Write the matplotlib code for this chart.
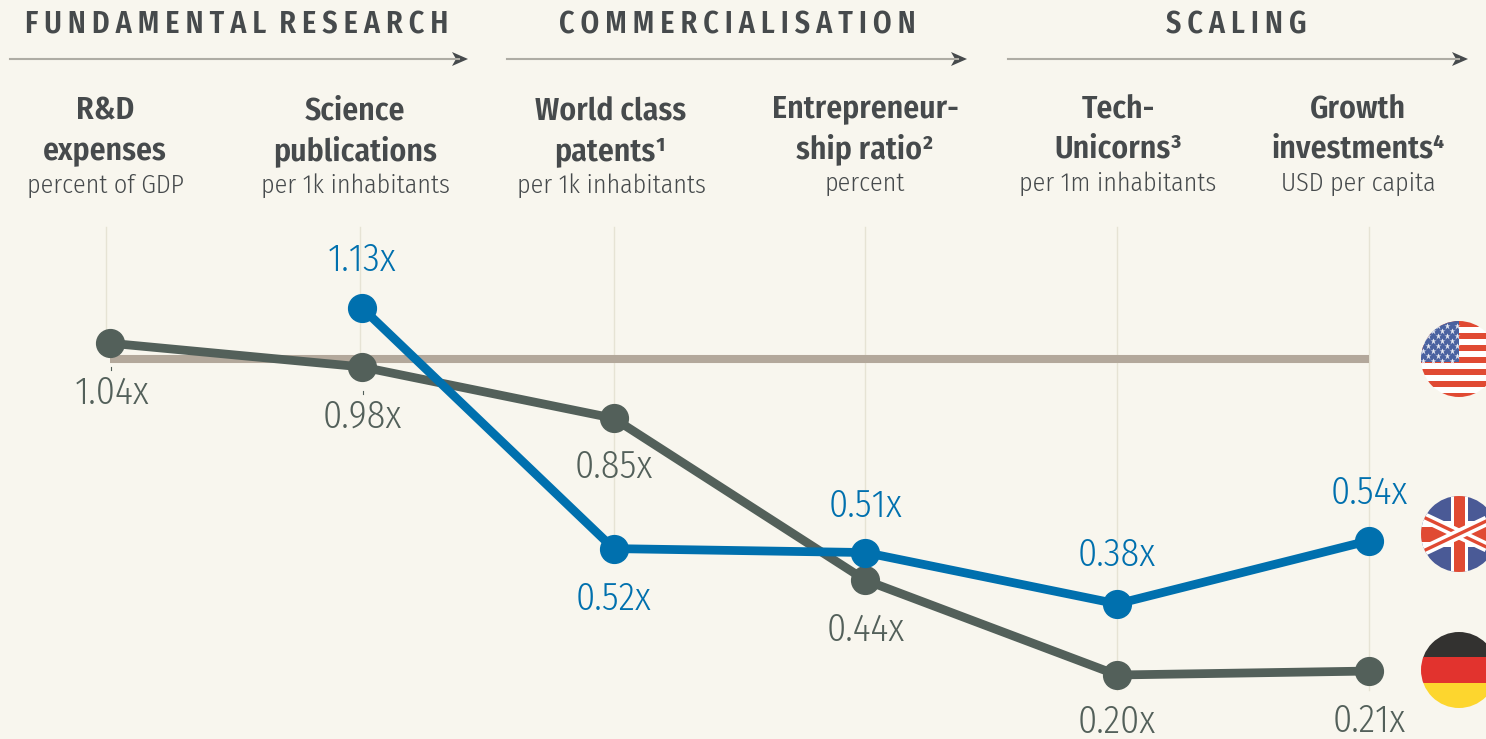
import matplotlib
matplotlib.use('Agg')
import matplotlib.pyplot as plt
from matplotlib.patches import Circle, Rectangle, Polygon

# data
sections = ['FUNDAMENTAL RESEARCH', 'COMMERCIALISATION', 'SCALING']
names = [['R&D', 'expenses'], ['Science', 'publications'], ['World class', 'patents\u00b9'],
         ['Entrepreneur-', 'ship ratio\u00b2'], ['Tech-', 'Unicorns\u00b3'], ['Growth', 'investments\u2074']]
units = ['percent of GDP', 'per 1k inhabitants', 'per 1k inhabitants',
         'percent', 'per 1m inhabitants', 'USD per capita']
germany = [1.04, 0.98, 0.85, 0.44, 0.20, 0.21]
uk_x = [1, 2, 3, 4, 5]
uk = [1.13, 0.52, 0.51, 0.38, 0.54]
us_level = 1.0

bg = '#f8f6ee'
grey = '#53605a'
blue = '#0070ae'
tan = '#b3a89b'
dark = '#464a4c'
font = ['Fira Sans Condensed', 'DejaVu Sans']

W, H = 1486, 739
fig = plt.figure(figsize=(W/100, H/100), dpi=100, facecolor=bg)

# overlay in pixels for header and flags
px = fig.add_axes([0, 0, 1, 1], zorder=1)
px.set_xlim(0, W)
px.set_ylim(H, 0)
px.axis('off')

# data axes, scale: 1.0 at y=359, 395 px per unit, 251.8 px per category
ax = fig.add_axes([0, 0, 1, 1], zorder=2)
ax.set_xlim(-110/251.8, (W-110)/251.8)
ax.set_ylim(1-(H-359)/395, 1+359/395)
ax.axis('off')
ax.patch.set_alpha(0)

# thin guides, they stop just under the lowest dot of each column
grid_x = [105.5, 359.5, 614, 865, 1117, 1369]
grid_end = [345, 375, 560, 590, 690, 690]
for x, e in zip(grid_x, grid_end):
    px.plot([x, x], [227, e], color='#e6e3d4', lw=1)
px.plot([110.5, 110.5], [367, 370], color=grey, lw=0.8)
px.plot([362.5, 362.5], [391, 394], color=grey, lw=0.8)

ax.plot([0, 5], [us_level, us_level], color=tan, lw=5.8, solid_capstyle='butt', zorder=2)
ax.plot(range(6), germany, color=grey, lw=6.3, marker='o', ms=20, zorder=3)
ax.plot(uk_x, uk, color=blue, lw=6.3, marker='o', ms=20, zorder=4)

# value labels, offset in px from the point
g_off = [(2, 50), (1, 50), (0, 49), (0, 50), (0, 47), (0, 50)]
u_off = [(0, -48), (0, 50), (0, -47), (0, -49), (0, -48)]
for i, v in enumerate(germany):
    ax.annotate('%.2fx' % v, (i, v), xytext=(g_off[i][0]*0.72, -g_off[i][1]*0.72), textcoords='offset points',
                ha='center', va='center', color=grey, fontsize=27.5, fontweight=300, family=font, zorder=6)
for k, (i, v) in enumerate(zip(uk_x, uk)):
    ax.annotate('%.2fx' % v, (i, v), xytext=(u_off[k][0]*0.72, -u_off[k][1]*0.72), textcoords='offset points',
                ha='center', va='center', color=blue, fontsize=27.5, fontweight=300, family=font, zorder=6)

# section headers
sec_x = [237, 737, 1236]
arrow_x = [(10, 467), (507, 966), (1008, 1467)]
for s, x, (a, b) in zip(sections, sec_x, arrow_x):
    px.text(x, 34, '\u2009'.join(s).replace('\u2009 \u2009', '  '), ha='center', va='baseline', color=dark,
            fontsize=21.6, fontweight=600, family=font)
    px.plot([a, b-8], [59, 59], color='#aeaca4', lw=1.5)
    px.add_patch(Polygon([[b-15, 52], [b+1, 59], [b-15, 66], [b-11, 59]], fc=dark, ec='none'))

# column headers
col_x = [105, 355, 611, 865, 1118, 1358]
base_y = [119, 119, 119, 117, 117, 117]
for i in range(6):
    px.text(col_x[i], base_y[i], names[i][0], ha='center', va='baseline', color=dark, fontsize=22.8,
            fontweight=600, family=font)
    px.text(col_x[i], base_y[i]+41, names[i][1], ha='center', va='baseline', color=dark, fontsize=22.8,
            fontweight=600, family=font)
    px.text(col_x[i], base_y[i]+74, units[i], ha='center', va='baseline', color=dark, fontsize=18.7,
            fontweight=300, family=font)

# flags
fx, r = 1459, 38
red = '#e04a33'
def clip_circle(cy):
    return Circle((fx, cy), r, transform=px.transData)

def clipped(artist, clip):
    artist.set_clip_path(clip)
    return artist

# usa
cy = 359
clip = clip_circle(cy)
clipped(px.add_patch(Rectangle((fx-r, cy-r), 2*r, 2*r, fc='white', ec='none')), clip)
for j in range(7):
    clipped(px.add_patch(Rectangle((fx-r, cy-r+j*12), 2*r, 6, fc=red, ec='none')), clip)
clipped(px.add_patch(Rectangle((fx-r, cy-r), r, r+3, fc='#4a62a0', ec='none')), clip)
for row in range(8):
    yy = cy-r+5+row*5
    for k in range(5):
        if (2 if row % 2 else 7)+k*9.6 < r-1:
            clipped(px.plot(fx-r+(2 if row % 2 else 7)+k*9.6, yy, marker='*', ms=4.5, color='#e8eaf2', mec='none')[0], clip)

# uk
cy = 534
clip = clip_circle(cy)
clipped(px.add_patch(Rectangle((fx-r, cy-r), 2*r, 2*r, fc='#4a5a96', ec='none')), clip)
for d in [1, -1]:
    clipped(px.plot([fx-80, fx+80], [cy-d*38, cy+d*38], color='white', lw=7.5, solid_capstyle='butt')[0], clip)
    clipped(px.plot([fx-80, fx+80], [cy-d*38, cy+d*38], color=red, lw=2.4, solid_capstyle='butt')[0], clip)
for rect, col in [((fx-8.5, cy-r, 17, 2*r), 'white'), ((fx-r, cy-13, 2*r, 26), 'white'),
                  ((fx-5.5, cy-r, 11, 2*r), red), ((fx-r, cy-7.5, 2*r, 15), red)]:
    clipped(px.add_patch(Rectangle(rect[:2], rect[2], rect[3], fc=col, ec='none')), clip)

# germany
cy = 670
clip = clip_circle(cy)
for k, col in enumerate(['#333230', '#e2332e', '#fdd62e']):
    clipped(px.add_patch(Rectangle((fx-r, cy-r+k*2*r/3), 2*r, 2*r/3+0.5, fc=col, ec='none')), clip)

px.set_xlim(0, W)
px.set_ylim(H, 0)
fig.savefig('out.png', dpi=100, facecolor=bg)
